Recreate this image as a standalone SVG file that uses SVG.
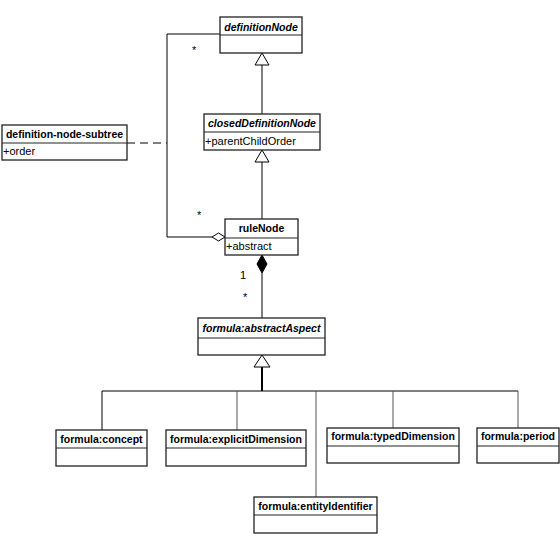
<svg xmlns="http://www.w3.org/2000/svg" width="560" height="550" viewBox="0 0 560 550">
<style>
.box{fill:#fff;stroke:#222;stroke-width:1.3}
.div{stroke:#222;stroke-width:1.2}
.t{font-family:"Liberation Sans",Arial,sans-serif;font-size:10.5px;font-weight:bold;fill:#000;text-anchor:middle}
.ti{font-style:italic}
.a{font-family:"Liberation Sans",Arial,sans-serif;font-size:11px;fill:#000}
.ln{fill:none;stroke:#000;stroke-width:1}
.gr{fill:none;stroke:#555;stroke-width:1}
.tri{fill:#fff;stroke:#000;stroke-width:1}
.lbl{font-family:"Liberation Sans",Arial,sans-serif;font-size:11px;fill:#000}
</style>
<rect width="560" height="550" fill="#fff"/>
<g id="connectors">
  <!-- closedDefinitionNode -> definitionNode -->
  <line class="ln" x1="262" y1="114" x2="262" y2="65"/>
  <polygon class="tri" points="262,53 255,65 269,65"/>
  <!-- ruleNode -> closedDefinitionNode -->
  <line class="ln" x1="262" y1="219" x2="262" y2="162"/>
  <polygon class="tri" points="262,150 255,162 269,162"/>
  <!-- aggregation -->
  <polyline class="ln" points="220,34 167,34 167,237 212,237"/>
  <polygon class="tri" points="212,237 218.5,233 225,237 218.5,241"/>
  <!-- association class dashed -->
  <line class="ln" x1="127" y1="143" x2="167" y2="143" stroke-dasharray="8,5"/>
  <!-- composition -->
  <polygon points="262,255 267,264 262,273 257,264" fill="#000" stroke="#000"/>
  <line class="ln" x1="262" y1="273" x2="262" y2="318"/>
  <!-- generalization bus -->
  <polygon class="tri" points="262,355 254,367 270,367"/>
  <line x1="262" y1="367" x2="262" y2="391" stroke="#000" stroke-width="2"/>
  <line class="ln" x1="102" y1="391" x2="518" y2="391"/>
  <line class="ln" x1="102" y1="391" x2="102" y2="430"/>
  <line class="gr" x1="237" y1="391" x2="237" y2="430"/>
  <line class="gr" x1="316" y1="391" x2="316" y2="497"/>
  <line class="gr" x1="393" y1="391" x2="393" y2="428"/>
  <line class="gr" x1="518" y1="391" x2="518" y2="428"/>
  <text class="lbl" x="192" y="54">*</text>
  <text class="lbl" x="197" y="219">*</text>
  <text class="lbl" x="240" y="279">1</text>
  <text class="lbl" x="243" y="301">*</text>
</g>
<g id="definitionNode">
  <rect class="box" x="220" y="17" width="82" height="36"/>
  <line class="div" x1="220" y1="35" x2="302" y2="35"/>
  <text class="t ti" x="261" y="31">definitionNode</text>
</g>
<g id="closedDefinitionNode">
  <rect class="box" x="204" y="114" width="116" height="36"/>
  <line class="div" x1="204" y1="132" x2="320" y2="132"/>
  <text class="t ti" x="262" y="127">closedDefinitionNode</text>
  <text class="a" x="205" y="145">+parentChildOrder</text>
</g>
<g id="definition-node-subtree">
  <rect class="box" x="2" y="125" width="125" height="35"/>
  <line class="div" x1="2" y1="143" x2="127" y2="143"/>
  <text class="t" x="64.5" y="138">definition-node-subtree</text>
  <text class="a" x="3" y="155">+order</text>
</g>
<g id="ruleNode">
  <rect class="box" x="225" y="219" width="73" height="36"/>
  <line class="div" x1="225" y1="238" x2="298" y2="238"/>
  <text class="t" x="261.5" y="232">ruleNode</text>
  <text class="a" x="226" y="250">+abstract</text>
</g>
<g id="abstractAspect">
  <rect class="box" x="198" y="318" width="127" height="37"/>
  <line class="div" x1="198" y1="338" x2="325" y2="338"/>
  <text class="t ti" x="261.5" y="332">formula:abstractAspect</text>
</g>
<g id="concept">
  <rect class="box" x="56" y="430" width="91" height="36"/>
  <line class="div" x1="56" y1="448" x2="147" y2="448"/>
  <text class="t" x="101.5" y="443">formula:concept</text>
</g>
<g id="explicitDimension">
  <rect class="box" x="166" y="430" width="140" height="36"/>
  <line class="div" x1="166" y1="448" x2="306" y2="448"/>
  <text class="t" x="236" y="443">formula:explicitDimension</text>
</g>
<g id="typedDimension">
  <rect class="box" x="327" y="428" width="132" height="35"/>
  <line class="div" x1="327" y1="446" x2="459" y2="446"/>
  <text class="t" x="393" y="440">formula:typedDimension</text>
</g>
<g id="period">
  <rect class="box" x="477" y="428" width="82" height="35"/>
  <line class="div" x1="477" y1="446" x2="559" y2="446"/>
  <text class="t" x="518" y="440">formula:period</text>
</g>
<g id="entityIdentifier">
  <rect class="box" x="254" y="497" width="123" height="36"/>
  <line class="div" x1="254" y1="515" x2="377" y2="515"/>
  <text class="t" x="315.5" y="510">formula:entityIdentifier</text>
</g>
</svg>
